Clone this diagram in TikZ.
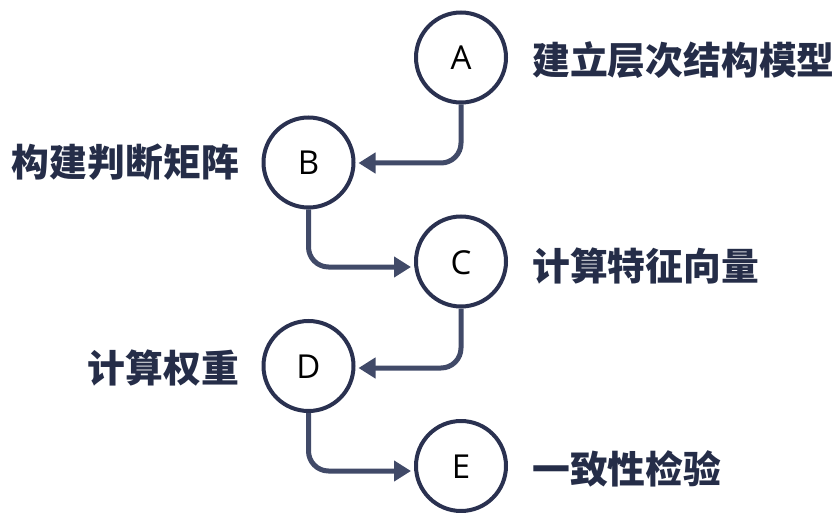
\documentclass[tikz,border=0pt]{standalone}
\usepackage{fontspec}
\usetikzlibrary{arrows.meta}
\newfontfamily\cjkfont{Noto Sans CJK SC}
\setsansfont{Open Sans}
\definecolor{ringcol}{HTML}{2A3150}
\definecolor{conncol}{HTML}{414A68}
\definecolor{labcol}{HTML}{252D48}
\tikzset{
  stepcircle/.style={circle,draw=ringcol,line width=4pt,fill=white,minimum size=90pt,inner sep=0pt,
    font=\sffamily\fontsize{33}{36}\selectfont,text=black,text height=25pt,text depth=-2pt},
  conn/.style={draw=conncol,line width=5pt,rounded corners=20pt,
    -{Triangle[length=17pt,width=20pt]},shorten >=3pt},
  lab/.style={font=\cjkfont\bfseries\fontsize{37.8}{40}\selectfont,text=labcol,
    inner sep=0pt,text height=31.4pt,text depth=2.6pt}
}
\begin{document}
\begin{tikzpicture}[x=1pt,y=-1pt]
\useasboundingbox (0,0) rectangle (835,513);
\node[stepcircle] (A) at (461,57.5) {A};
\node[stepcircle] (B) at (308.5,162.5) {B};
\node[stepcircle] (C) at (461,261.5) {C};
\node[stepcircle] (D) at (308.5,366) {D};
\node[stepcircle] (E) at (461,466) {E};

\node[lab,anchor=west] (la) at (532,60) {建立层次结构模型};
\node[lab,anchor=east] (lb) at (239,162) {构建判断矩阵};
\node[lab,anchor=west] (lc) at (532,266) {计算特征向量};
\node[lab,anchor=east] (ld) at (239,368) {计算权重};
\node[lab,anchor=west] (le) at (532,469) {一致性检验};

\draw[conn] (A.south) |- ([yshift=-0.5pt]B.east);
\draw[conn] (B.south) |- ([yshift=-5.5pt]C.west);
\draw[conn] (C.south) |- ([yshift=-2pt]D.east);
\draw[conn] (D.south) |- ([yshift=-5pt]E.west);
\end{tikzpicture}
\end{document}
